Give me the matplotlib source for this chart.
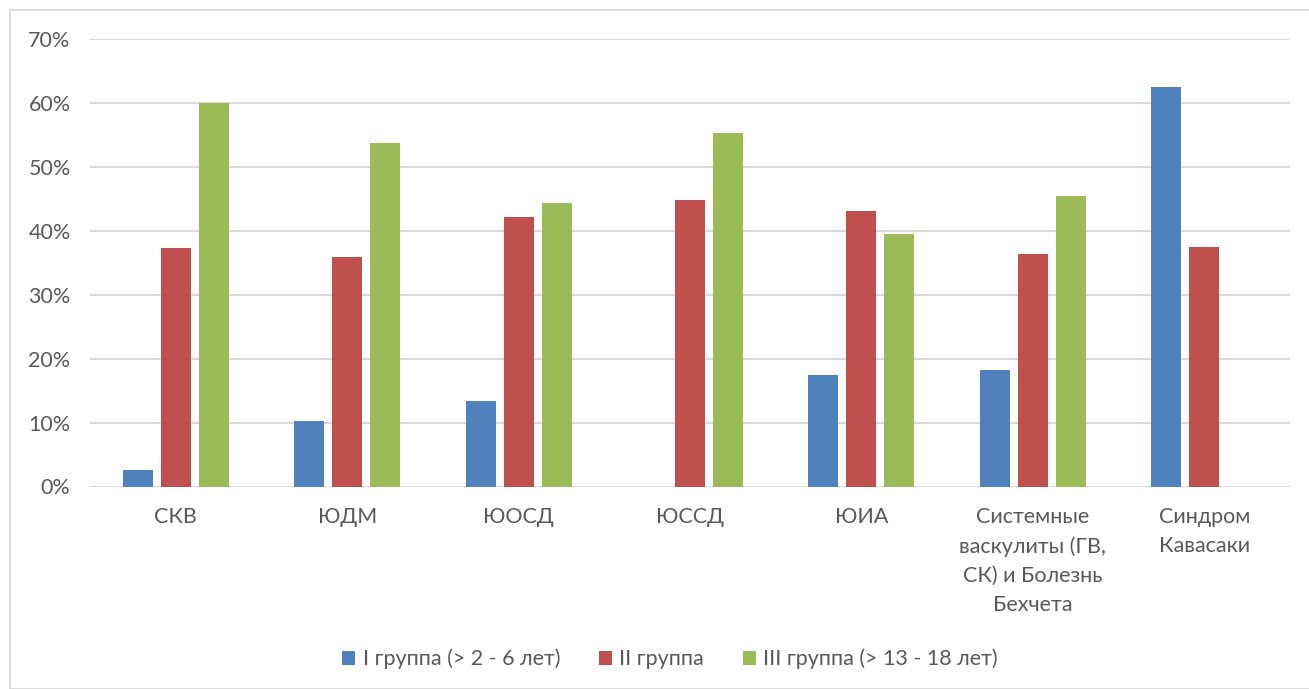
import matplotlib

matplotlib.use("Agg")

import matplotlib.pyplot as plt
import numpy as np
from matplotlib.patches import Rectangle
from matplotlib.ticker import PercentFormatter

plt.rcParams["font.family"] = ["Lato", "DejaVu Sans"]

categories = [
    "СКВ",
    "ЮДМ",
    "ЮОСД",
    "ЮССД",
    "ЮИА",
    "Системные\nваскулиты (ГВ,\nСК) и Болезнь\nБехчета",
    "Синдром\nКавасаки",
]
group_labels = [
    "I группа (> 2 - 6 лет)",
    "II группа",
    "III группа (> 13 - 18 лет)",
]
group_1 = [2.6, 10.3, 13.3, 0.0, 17.4, 18.2, 62.5]
group_2 = [37.3, 35.9, 42.2, 44.8, 43.1, 36.4, 37.5]
group_3 = [60.0, 53.8, 44.4, 55.3, 39.5, 45.5, 0.0]
y_ticks = [0, 10, 20, 30, 40, 50, 60, 70]

COLORS = ["#4f81bd", "#c0504d", "#9bbb59"]
TEXT_COLOR = "#595959"
GRID_COLOR = "#d9d9d9"
FONT_SIZE = 15.5

fig = plt.figure(figsize=(13.09, 6.89), dpi=100)
ax = fig.add_axes([90 / 1309, 1 - 486.5 / 689, 1200 / 1309, 447.5 / 689])

x = np.arange(len(categories))
width = 0.175
step = 0.222
for index, (values, label) in enumerate(zip([group_1, group_2, group_3], group_labels)):
    ax.bar(
        x + (index - 1) * step,
        values,
        width,
        color=COLORS[index],
        label=label,
        zorder=3,
    )

ax.set_xlim(-0.5, len(categories) - 0.5)
ax.set_ylim(0, 70)
ax.set_yticks(y_ticks)
ax.yaxis.set_major_formatter(PercentFormatter(decimals=0))
ax.grid(axis="y", color=GRID_COLOR, linewidth=1.4, zorder=0)
ax.set_axisbelow(True)
for spine in ax.spines.values():
    spine.set_visible(False)

ax.set_xticks(x, categories)
ax.tick_params(axis="both", length=0, labelsize=FONT_SIZE, colors=TEXT_COLOR)
ax.tick_params(axis="x", pad=15)
ax.tick_params(axis="y", pad=14)
for tick in ax.get_xticklabels():
    tick.set_linespacing(1.55)
    tick.set_verticalalignment("top")

legend = fig.legend(
    loc="center",
    bbox_to_anchor=(670 / 1309, 1 - 659 / 689),
    ncol=3,
    frameon=False,
    fontsize=FONT_SIZE,
    handlelength=0.6,
    handleheight=0.6,
    handletextpad=0.35,
    columnspacing=1.8,
)
for text in legend.get_texts():
    text.set_color(TEXT_COLOR)

# thin chart-area frame
fig.patches.append(
    Rectangle(
        (10 / 1309, 0),
        1.0,
        1 - 10 / 689,
        transform=fig.transFigure,
        fill=False,
        edgecolor=GRID_COLOR,
        linewidth=1.3,
    )
)

fig.savefig("out.png", dpi=100)
plt.close(fig)
